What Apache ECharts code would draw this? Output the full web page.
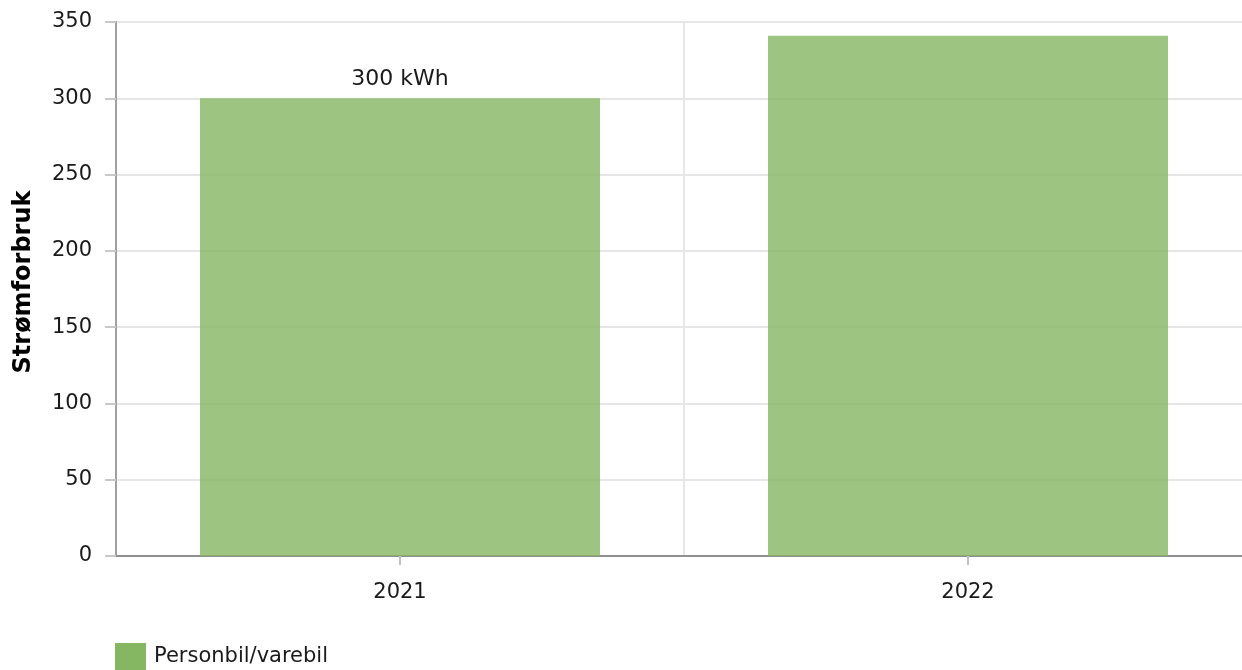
<!DOCTYPE html>
<html>
<head>
<meta charset="utf-8">
<script src="https://cdn.jsdelivr.net/npm/echarts@6/dist/echarts.min.js"></script>
<style>
html,body{margin:0;padding:0;background:#fff;}
#chart{width:1242px;height:670px;}
</style>
</head>
<body>
<div id="chart"></div>
<script>
const categories = ['2021', '2022'];
const seriesName = 'Personbil/varebil';
const values = [300, 341];
const labelTexts = ['300 kWh', ''];
const yAxisName = 'Strømforbruk';

const FONT = '"DejaVu Sans", Verdana, sans-serif';
const chart = echarts.init(document.getElementById('chart'), null, {renderer: 'canvas'});

chart.setOption({
  animation: false,
  backgroundColor: '#ffffff',
  grid: {left: 116, width: 1136, top: 22, bottom: 114, containLabel: false, outerBoundsMode: 'none'},
  legend: {
    left: 110, top: 638,
    itemWidth: 31, itemHeight: 27, itemGap: 10,
    icon: 'rect',
    itemStyle: {color: '#85b762', opacity: 1},
    textStyle: {fontSize: 21, fontFamily: FONT, color: '#1a1a1a', padding: [6,0,0,3]},
    data: [seriesName]
  },
  xAxis: {
    type: 'category',
    data: categories,
    axisLine: {show: true, lineStyle: {color: '#8f8f8f', width: 2}},
    axisTick: {show: true, alignWithLabel: true, length: 9, lineStyle: {color: '#c0c0c0', width: 2}},
    axisLabel: {fontSize: 21, fontFamily: FONT, color: '#1a1a1a', margin: 26},
    splitLine: {show: true, lineStyle: {color: '#e6e6e6', width: 2}}
  },
  yAxis: {
    type: 'value',
    min: 0, max: 350, interval: 50,
    name: yAxisName,
    nameLocation: 'middle',
    nameGap: 80,
    nameRotate: 90,
    nameTextStyle: {fontSize: 24, fontWeight: 'bold', fontFamily: FONT, color: '#000', padding: [0,0,0,14]},
    axisLine: {show: true, lineStyle: {color: '#a0a0a0', width: 2}},
    axisTick: {show: true, length: 11, lineStyle: {color: '#c8c8c8', width: 2}},
    axisLabel: {fontSize: 21, fontFamily: FONT, color: '#1a1a1a', margin: 24, padding: [2,0,0,0]},
    splitLine: {show: true, lineStyle: {color: '#e6e6e6', width: 2}}
  },
  series: [{
    name: seriesName,
    type: 'bar',
    barWidth: 400,
    data: values,
    itemStyle: {color: 'rgba(133,183,98,0.8)'},
    label: {
      show: true, position: 'top', distance: 8,
      formatter: p => labelTexts[p.dataIndex],
      color: '#1a1a1a', fontSize: 22, fontFamily: FONT
    }
  }]
});
</script>
</body>
</html>
